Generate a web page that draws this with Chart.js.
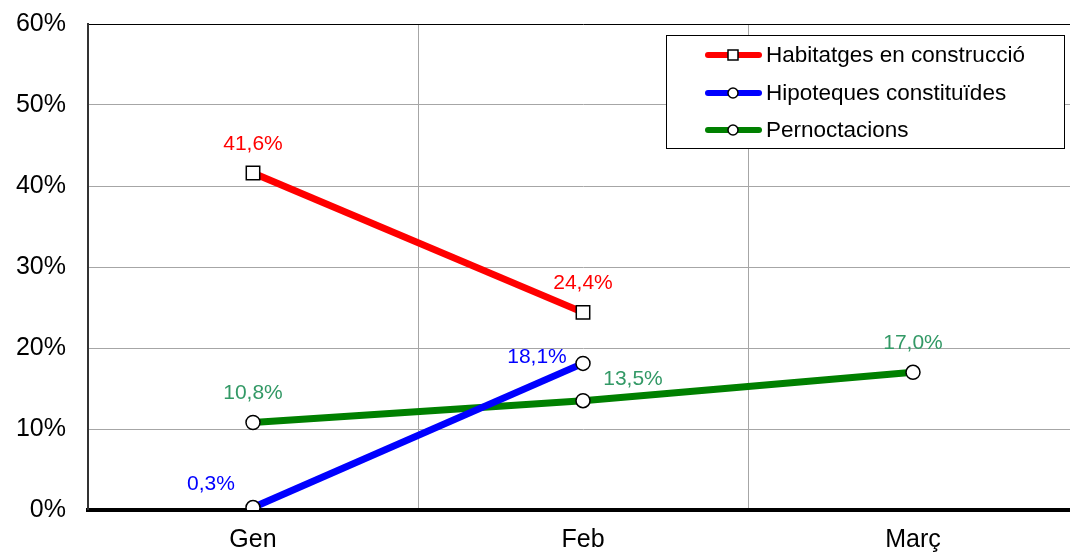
<!DOCTYPE html>
<html>
<head>
<meta charset="utf-8">
<script src="https://cdn.jsdelivr.net/npm/chart.js@4"></script>
<style>
  body { margin: 0; background: #fff; overflow: hidden; }
  #wrap { width: 1070px; height: 552px; overflow: hidden; }
</style>
</head>
<body>
<div id="wrap"><canvas id="lineChart" width="1089" height="552"></canvas></div>
<script>
// categories and series
var months = ["Gen", "Feb", "Març"];
var habitatges = [41.6, 24.4, null];
var hipoteques = [0.3, 18.1, null];
var pernoctacions = [10.8, 13.5, 17.0];
var seriesNames = ["Habitatges en construcció", "Hipoteques constituïdes", "Pernoctacions"];
var yTicks = [0, 10, 20, 30, 40, 50, 60];

var FONT = "'Liberation Sans', Arial, sans-serif";

function fmt(v) {
    return v.toFixed(1).replace('.', ',') + '%';
}

// value labels next to each point
var pointLabels = {
    id: 'pointLabels',
    afterDatasetsDraw: function (chart, args, opts) {
        var ctx = chart.ctx;
        ctx.save();
        ctx.font = '21px ' + FONT;
        ctx.textAlign = 'center';
        ctx.textBaseline = 'middle';
        chart.data.datasets.forEach(function (ds, i) {
            var meta = chart.getDatasetMeta(i);
            meta.data.forEach(function (pt, j) {
                var v = ds.data[j];
                if (v === null) return;
                var off = opts.offsets[i][j];
                ctx.fillStyle = opts.colors[i];
                ctx.fillText(fmt(v), pt.x + off[0], pt.y + off[1]);
            });
        });
        ctx.restore();
    }
};

// legend box inside the plot
var boxLegend = {
    id: 'boxLegend',
    afterDraw: function (chart) {
        var ctx = chart.ctx;
        var x0 = 666.5, y0 = 35.5, w = 398, h = 113;
        ctx.save();
        ctx.fillStyle = '#fff';
        ctx.fillRect(x0, y0, w, h);
        ctx.strokeStyle = '#000';
        ctx.lineWidth = 1;
        ctx.strokeRect(x0, y0, w, h);
        var rows = [55, 93, 130];
        chart.data.datasets.forEach(function (ds, i) {
            var y = rows[i];
            ctx.strokeStyle = ds.borderColor;
            ctx.lineWidth = 6;
            ctx.lineCap = 'round';
            ctx.beginPath();
            ctx.moveTo(708, y);
            ctx.lineTo(759, y);
            ctx.stroke();
            ctx.fillStyle = '#fff';
            ctx.strokeStyle = '#000';
            ctx.lineWidth = 1.5;
            if (ds.pointStyle === 'rect') {
                ctx.fillRect(728, y - 5, 10, 10);
                ctx.strokeRect(728, y - 5, 10, 10);
            } else {
                ctx.beginPath();
                ctx.arc(733, y, 5, 0, Math.PI * 2);
                ctx.fill();
                ctx.stroke();
            }
            ctx.fillStyle = '#000';
            ctx.font = '22.5px ' + FONT;
            ctx.textAlign = 'left';
            ctx.textBaseline = 'middle';
            ctx.fillText(ds.label, 766, y + 1);
        });
        ctx.restore();
    }
};

new Chart(document.getElementById('lineChart').getContext('2d'), {
    type: 'line',
    data: {
        labels: months,
        datasets: [
            {
                label: seriesNames[0],
                data: habitatges,
                borderColor: '#ff0000',
                borderWidth: 7,
                pointStyle: 'rect',
                pointRadius: 9.5,
                pointBackgroundColor: '#fff',
                pointBorderColor: '#000',
                pointBorderWidth: 1.5
            },
            {
                label: seriesNames[1],
                data: hipoteques,
                borderColor: '#0000ff',
                borderWidth: 7,
                pointStyle: 'circle',
                pointRadius: 7,
                pointBackgroundColor: '#fff',
                pointBorderColor: '#000',
                pointBorderWidth: 1.5
            },
            {
                label: seriesNames[2],
                data: pernoctacions,
                borderColor: '#008000',
                borderWidth: 7,
                pointStyle: 'circle',
                pointRadius: 7,
                pointBackgroundColor: '#fff',
                pointBorderColor: '#000',
                pointBorderWidth: 1.5
            }
        ]
    },
    options: {
        responsive: false,
        animation: false,
        layout: { padding: { top: 24, right: 2, left: 0, bottom: 0 } },
        plugins: {
            legend: { display: false },
            tooltip: { enabled: false },
            pointLabels: {
                colors: ['#ff0000', '#0000ff', '#339966'],
                offsets: [
                    [[0, -29], [0, -29]],
                    [[-42, -23], [-46, -6]],
                    [[0, -29], [50, -21], [0, -29]]
                ]
            }
        },
        scales: {
            x: {
                offset: true,
                grid: { offset: true, color: '#a6a6a6', lineWidth: 1, drawTicks: false },
                border: { color: '#000', width: 4 },
                ticks: { color: '#000', font: { family: FONT, size: 25 }, padding: 15 },
                afterFit: function (s) { s.height = 42; s.paddingLeft = 0; s.paddingRight = 0; }
            },
            y: {
                min: 0,
                max: 60,
                afterBuildTicks: function (s) { s.ticks = yTicks.map(function (v) { return { value: v }; }); },
                grid: {
                    color: function (c) { return c.tick && c.tick.value === 60 ? '#000' : '#a6a6a6'; },
                    lineWidth: function (c) { return c.tick && c.tick.value === 0 ? 0 : 1; },
                    drawTicks: false
                },
                border: { color: '#333', width: 2 },
                ticks: {
                    color: '#000',
                    font: { family: FONT, size: 25 },
                    padding: 22,
                    callback: function (v) { return v + '%'; }
                },
                afterFit: function (s) { s.width = 88; s.paddingTop = 0; s.paddingBottom = 0; }
            }
        }
    },
    plugins: [pointLabels, boxLegend]
});
</script>
</body>
</html>
